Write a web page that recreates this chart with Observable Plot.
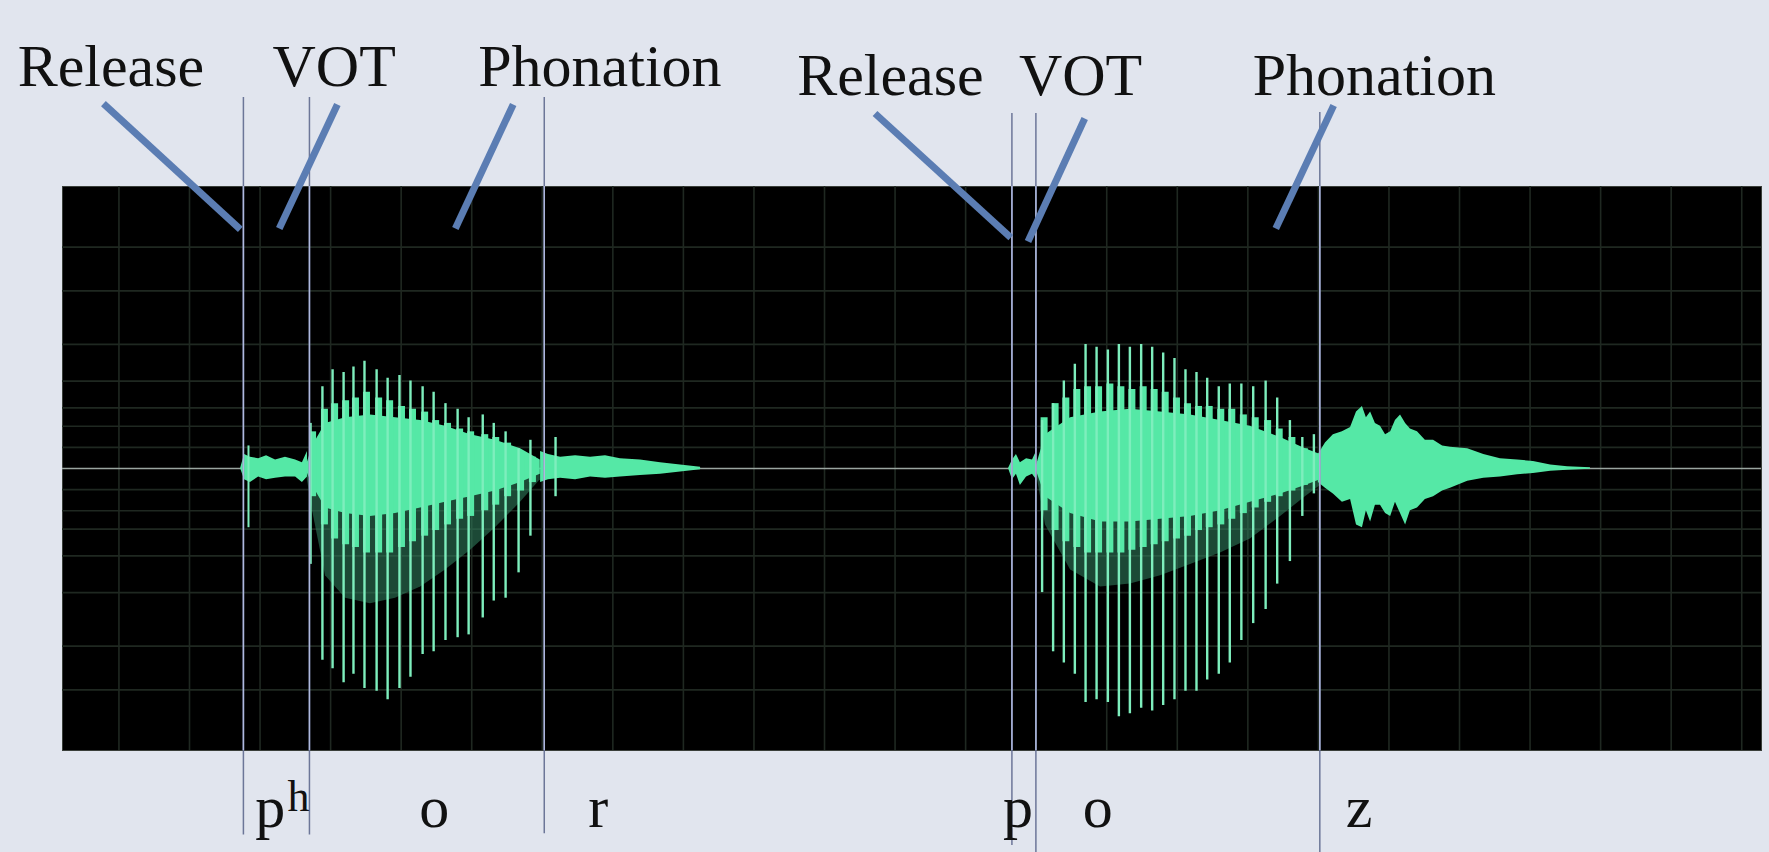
<!DOCTYPE html>
<html><head><meta charset="utf-8">
<script src="https://cdn.jsdelivr.net/npm/d3@7"></script>
<script src="https://cdn.jsdelivr.net/npm/@observablehq/plot@0.6"></script>
<style>
html,body{margin:0;padding:0;background:#e1e5ee;}
#chart{width:1769px;height:852px;overflow:hidden;}
#chart svg{overflow:visible;display:block;}
</style></head><body><div id="chart"></div>
<script>
// ---- Grid (time in ms, amplitude -1..1) ----
const gridTimes = [20,45,70,95,120,145,170,195,220,245,270,295,320,345,370,395,420,445,470,495,520,545,570,595];
const gridAmps = [-0.785,-0.63,-0.44,-0.31,-0.215,-0.15,-0.075,0.075,0.15,0.215,0.31,0.44,0.63,0.785];

// ---- Segment boundaries (vertical marker lines) ----
const markerT = [64.1, 87.5, 170.7, 336.4, 344.9, 445.5];
const markerTop = [1.316, 1.316, 1.316, 1.259, 1.259, 1.262];
const markerBottom = [-1.30, -1.30, -1.295, -1.337, -1.37, -1.37];

// ---- Top annotations ----
const topLabels = ["Release", "VOT", "Phonation", "Release", "VOT", "Phonation"];
const topLabelT = [-15.9, 74.4, 147.3, 260.3, 338.9, 421.7];
const topLabelAmp = [1.358, 1.358, 1.358, 1.323, 1.323, 1.326];
const pointerT1 = [14.5, 97.4, 159.7, 287.9, 362.2, 450.4];
const pointerA1 = [1.294, 1.291, 1.291, 1.259, 1.241, 1.287];
const pointerT2 = [63.0, 76.8, 139.2, 336.0, 342.1, 429.9];
const pointerA2 = [0.848, 0.851, 0.851, 0.819, 0.805, 0.851];

// ---- Bottom phoneme labels ----
const phonemes = ["p", "o", "r", "p", "o", "z"];
const phonemeT = [68.3, 126.4, 186.3, 333.2, 361.5, 454.7];
const phonemeAmp = -1.273;
const superLabel = "h";
const superT = 79.7;
const superAmp = -1.213;

// ---- Waveform: release bursts / aspiration / noise envelopes ----
const asp1T  = [63.1, 64.5, 66.6, 69.5, 72.3, 75.5, 79.0, 82.6, 85.0, 86.8];
const asp1Hi = [0, 0.05, 0.04, 0.035, 0.045, 0.03, 0.04, 0.03, 0.02, 0.06];
const asp1Lo = [0, -0.04, -0.05, -0.03, -0.04, -0.035, -0.03, -0.03, -0.05, -0.03];

const rNoiseT  = [169.4, 172.2, 176.5, 181.8, 187.1, 192.4, 197.7, 204.8, 211.9, 219.0, 226.1];
const rNoiseHi = [0.06, 0.05, 0.04, 0.045, 0.04, 0.045, 0.035, 0.03, 0.02, 0.012, 0.004];
const rNoiseLo = [-0.05, -0.04, -0.035, -0.04, -0.03, -0.035, -0.03, -0.025, -0.02, -0.012, -0.004];

const rel2T  = [335.2, 336.6, 338.0, 339.4, 341.6, 343.7, 345.1];
const rel2Hi = [0, 0.03, 0.05, 0.02, 0.035, 0.03, 0.06];
const rel2Lo = [0, -0.04, -0.02, -0.06, -0.03, -0.02, -0.04];

const spikeT = [65.9];
const spikeBot = [-0.21];
const spikeTop = [0.08];

// ---- Vowel 1 (o in "por") ----
const v1T     = [86.1, 88.6, 93.2, 100.3, 109.1, 118.0, 126.9, 135.7, 144.6, 153.4, 162.3, 169.3];
const v1Hi    = [0, 0.08, 0.16, 0.18, 0.19, 0.18, 0.17, 0.15, 0.12, 0.10, 0.07, 0.03];
const v1Lo    = [0, -0.06, -0.14, -0.16, -0.17, -0.16, -0.14, -0.12, -0.10, -0.08, -0.05, -0.02];
const v1DimLo = [0, -0.15, -0.38, -0.46, -0.48, -0.46, -0.42, -0.36, -0.29, -0.21, -0.12, -0.04];
const v1PulseT   = [87.9, 92.1, 95.7, 99.6, 103.1, 107.0, 111.3, 115.2, 119.4, 123.3, 127.6, 131.5, 135.7, 140.0, 143.9, 148.9, 152.8, 157.0, 161.6, 165.8, 174.7];
const v1PulseBot = [-0.34, -0.68, -0.71, -0.76, -0.73, -0.78, -0.79, -0.82, -0.78, -0.74, -0.66, -0.65, -0.61, -0.60, -0.59, -0.53, -0.47, -0.46, -0.37, -0.24, -0.10];
const v1PulseTop = [0.16, 0.29, 0.35, 0.34, 0.36, 0.38, 0.35, 0.32, 0.33, 0.31, 0.29, 0.27, 0.23, 0.21, 0.18, 0.19, 0.16, 0.13, 0.07, 0.10, 0.11];
const v1BlobTop  = [0.13, 0.21, 0.23, 0.24, 0.25, 0.27, 0.25, 0.24, 0.22, 0.21, 0.20, 0.17, 0.16, 0.14, 0.13, 0.12, 0.11, 0.09, 0.06, 0.04, 0.03];
const v1BlobBot  = [-0.10, -0.20, -0.25, -0.27, -0.28, -0.30, -0.30, -0.30, -0.28, -0.26, -0.24, -0.22, -0.20, -0.18, -0.17, -0.15, -0.13, -0.10, -0.08, -0.05, -0.03];

// ---- Vowel 2 (o in "poz") ----
const v2T     = [344.8, 348.3, 357.2, 367.8, 378.4, 389.1, 399.7, 410.3, 420.9, 431.6, 440.4, 445.7];
const v2Hi    = [0, 0.12, 0.18, 0.20, 0.21, 0.20, 0.19, 0.17, 0.15, 0.11, 0.07, 0.05];
const v2Lo    = [0, -0.10, -0.16, -0.19, -0.19, -0.18, -0.17, -0.15, -0.12, -0.09, -0.06, -0.04];
const v2DimLo = [0, -0.2, -0.36, -0.42, -0.41, -0.38, -0.34, -0.30, -0.25, -0.17, -0.1, -0.06];
const v2PulseT   = [347.1, 351.0, 354.8, 358.7, 362.5, 366.4, 370.4, 374.3, 378.2, 382.2, 386.1, 390.0, 394.0, 397.9, 401.8, 405.6, 409.7, 413.6, 417.7, 421.9, 426.3, 430.4, 434.9, 439.3, 443.4];
const v2PulseBot = [-0.44, -0.65, -0.69, -0.73, -0.83, -0.82, -0.83, -0.88, -0.87, -0.85, -0.86, -0.84, -0.82, -0.79, -0.79, -0.75, -0.73, -0.69, -0.61, -0.55, -0.50, -0.41, -0.33, -0.17, -0.09];
const v2PulseTop = [0.17, 0.23, 0.31, 0.37, 0.44, 0.43, 0.42, 0.44, 0.43, 0.44, 0.43, 0.41, 0.39, 0.35, 0.34, 0.32, 0.29, 0.30, 0.30, 0.29, 0.31, 0.25, 0.17, 0.11, 0.12];
const v2BlobTop  = [0.18, 0.23, 0.25, 0.28, 0.29, 0.29, 0.30, 0.29, 0.28, 0.29, 0.28, 0.27, 0.25, 0.23, 0.22, 0.22, 0.21, 0.21, 0.19, 0.18, 0.17, 0.14, 0.11, 0.07, 0.05];
const v2BlobBot  = [-0.15, -0.22, -0.26, -0.28, -0.30, -0.30, -0.30, -0.30, -0.29, -0.28, -0.27, -0.26, -0.25, -0.24, -0.22, -0.21, -0.20, -0.18, -0.16, -0.14, -0.12, -0.10, -0.08, -0.06, -0.04];

// ---- Fricative z ----
const zT  = [445.0, 447.5, 450.3, 453.5, 456.4, 458.5, 460.6, 462.0, 463.5, 465.2, 467.0, 468.8, 470.6, 472.3, 474.1, 475.9, 477.6, 480.1, 482.9, 485.8, 489.0, 491.8, 497.9, 503.6, 509.5, 515.6, 521.2, 527.3, 533.3, 541.4];
const zHi = [0.05, 0.09, 0.12, 0.13, 0.145, 0.20, 0.22, 0.18, 0.20, 0.16, 0.15, 0.12, 0.13, 0.17, 0.19, 0.16, 0.14, 0.13, 0.10, 0.10, 0.08, 0.075, 0.07, 0.05, 0.035, 0.03, 0.025, 0.012, 0.006, 0.003];
const zLo = [-0.05, -0.07, -0.09, -0.12, -0.11, -0.20, -0.21, -0.15, -0.19, -0.13, -0.13, -0.16, -0.17, -0.12, -0.16, -0.20, -0.15, -0.14, -0.11, -0.10, -0.08, -0.07, -0.045, -0.035, -0.03, -0.022, -0.018, -0.01, -0.006, -0.003];

// ---- build tables ----
const env = (T, H, L) => T.map((t, i) => ({t, hi: H[i], lo: L[i]}));
const rules = (T, B, U) => T.map((t, i) => ({t, bot: B[i], top: U[i]}));
const markers = markerT.map((t, i) => ({t, top: markerTop[i], bot: markerBottom[i]}));
const tops = topLabels.map((s, i) => ({s, t: topLabelT[i], a: topLabelAmp[i]}));
const pointers = pointerT1.map((t, i) => ({t1: t, a1: pointerA1[i], t2: pointerT2[i], a2: pointerA2[i]}));
const bottoms = phonemes.map((s, i) => ({s, t: phonemeT[i], a: phonemeAmp}));

const GREEN = "#55e8a6";
const PULSE = "#7eeebd";
const DIM = "#2f7a5a";
const GRID = "#1f2821";

const chart = Plot.plot({
  width: 1769, height: 852,
  marginLeft: 62, marginRight: 8, marginTop: 186, marginBottom: 102,
  x: {domain: [0, 602], axis: null},
  y: {domain: [-1, 1], axis: null},
  style: {background: "transparent", overflow: "visible"},
  marks: [
    Plot.frame({fill: "#000000", stroke: "#3a3f3a", strokeWidth: 1}),
    Plot.ruleX(gridTimes, {stroke: GRID, strokeWidth: 1.6}),
    Plot.ruleY(gridAmps, {stroke: GRID, strokeWidth: 1.6}),
    Plot.ruleY([0], {stroke: "#9aa5a0", strokeWidth: 1.3}),
    // dim lower strands
    Plot.areaY(env(v1T, v1Hi.map(() => 0), v1DimLo), {x: "t", y1: "lo", y2: "hi", fill: DIM, fillOpacity: 0.6}),
    Plot.areaY(env(v2T, v2Hi.map(() => 0), v2DimLo), {x: "t", y1: "lo", y2: "hi", fill: DIM, fillOpacity: 0.6}),
    // noise / fricative
    Plot.areaY(env(asp1T, asp1Hi, asp1Lo), {x: "t", y1: "lo", y2: "hi", fill: GREEN}),
    Plot.areaY(env(rNoiseT, rNoiseHi, rNoiseLo), {x: "t", y1: "lo", y2: "hi", fill: GREEN}),
    Plot.areaY(env(rel2T, rel2Hi, rel2Lo), {x: "t", y1: "lo", y2: "hi", fill: GREEN}),
    Plot.areaY(env(zT, zHi, zLo), {x: "t", y1: "lo", y2: "hi", fill: GREEN}),
    // vowel bodies (between-pulse fill)
    Plot.areaY(env(v1T, v1Hi, v1Lo), {x: "t", y1: "lo", y2: "hi", fill: GREEN}),
    Plot.areaY(env(v2T, v2Hi, v2Lo), {x: "t", y1: "lo", y2: "hi", fill: GREEN}),
    // bright per-period blobs
    Plot.ruleX(rules(v1PulseT, v1BlobBot, v1BlobTop), {x: "t", dx: 2, y1: "bot", y2: "top", stroke: GREEN, strokeWidth: 7}),
    Plot.ruleX(rules(v2PulseT, v2BlobBot, v2BlobTop), {x: "t", dx: 2, y1: "bot", y2: "top", stroke: GREEN, strokeWidth: 7}),
    // glottal pulses and release spike
    Plot.ruleX(rules(v1PulseT, v1PulseBot, v1PulseTop), {x: "t", y1: "bot", y2: "top", stroke: PULSE, strokeWidth: 2.4}),
    Plot.ruleX(rules(v2PulseT, v2PulseBot, v2PulseTop), {x: "t", y1: "bot", y2: "top", stroke: PULSE, strokeWidth: 2.4}),
    Plot.ruleX(rules(spikeT, spikeBot, spikeTop), {x: "t", y1: "bot", y2: "top", stroke: PULSE, strokeWidth: 2}),
    // segment marker lines
    Plot.ruleX(markers, {x: "t", y1: "bot", y2: "top", stroke: "#6c7698", strokeWidth: 1.5}),
    Plot.ruleX(markers, {x: "t", y1: -1, y2: 1, stroke: "#aeb8de", strokeWidth: 1.5}),
    // pointers
    Plot.link(pointers, {x1: "t1", y1: "a1", x2: "t2", y2: "a2", stroke: "#5b7db3", strokeWidth: 7}),
    // labels
    Plot.text(tops, {x: "t", y: "a", text: "s", textAnchor: "start", lineAnchor: "bottom", fontFamily: "Liberation Serif", fontSize: 60, fill: "#111111"}),
    Plot.text(bottoms, {x: "t", y: "a", text: "s", textAnchor: "start", lineAnchor: "bottom", fontFamily: "Liberation Serif", fontSize: 60, fill: "#111111"}),
    Plot.text([superLabel], {x: superT, y: superAmp, text: d => d, textAnchor: "start", lineAnchor: "bottom", fontFamily: "Liberation Serif", fontSize: 44, fill: "#111111"})
  ]
});
document.getElementById("chart").append(chart);
</script></body></html>
